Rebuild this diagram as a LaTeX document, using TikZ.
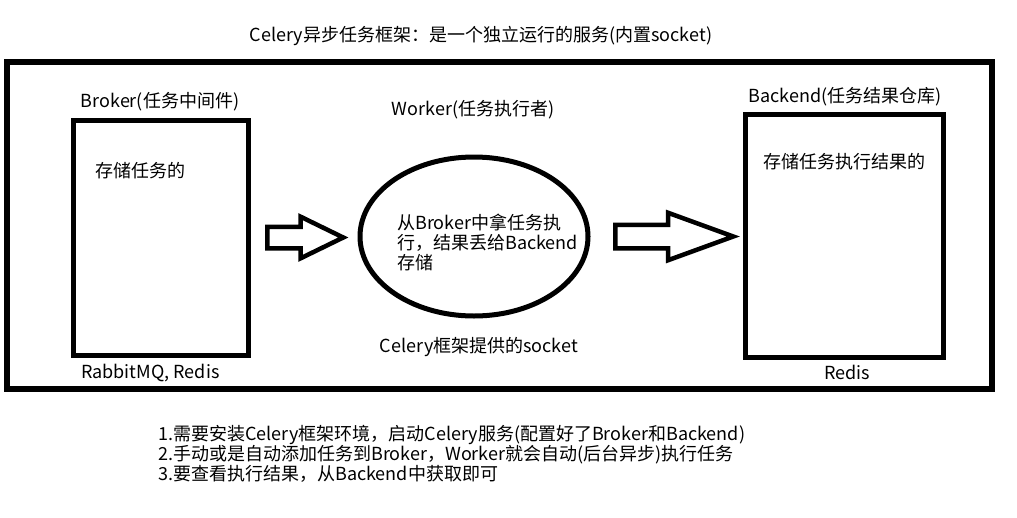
\documentclass[tikz,border=0pt]{standalone}
\usepackage{fontspec}
\setmainfont{Noto Sans CJK SC}
\usetikzlibrary{shapes.geometric,shapes.arrows}

\begin{document}
\begin{tikzpicture}[x=1pt,y=-1pt,
  txt/.style={inner sep=0pt,font=\fontsize{18}{20}\selectfont},
  box/.style={draw,line width=5pt,inner sep=0pt},
  fatarrow/.style={draw,line width=4.5pt,single arrow,inner xsep=0pt,anchor=tail}]
\useasboundingbox (0,0) rectangle (1017,517);
% outer frame and title
\node[box,line width=6pt,minimum width=985.5pt,minimum height=326.7pt] (frame) at (499.25,225.3) {};
\node[txt] (title) at (481,36) {Celery异步任务框架：是一个独立运行的服务(内置socket)};
% broker
\node[box,minimum width=175pt,minimum height=235pt] (broker) at (160.5,237.5) {};
\node[txt] (brokerlabel) at (160,102) {Broker(任务中间件)};
\node[txt,anchor=west] (brokertext) at (95,171) {存储任务的};
\node[txt,anchor=west] (brokerimpl) at (81,373) {RabbitMQ, Redis};
% worker
\node[box,ellipse,minimum width=228pt,minimum height=159pt] (worker) at (474,236.5) {};
\node[txt] (workerlabel) at (473,110) {Worker(任务执行者)};
\node[txt,anchor=west,align=left] (workertext) at (397,242) {从Broker中拿任务执\\行，结果丢给Backend\\存储};
\node[txt] (socket) at (479,347) {Celery框架提供的socket};
% backend
\node[box,minimum width=198pt,minimum height=243pt] (backend) at (844,235.5) {};
\node[txt] (backendlabel) at (845,97) {Backend(任务结果仓库)};
\node[txt] (backendtext) at (844,162) {存储任务执行结果的};
\node[txt] (backendimpl) at (847,372) {Redis};
% arrows
\node[fatarrow,inner ysep=8.5pt,single arrow head extend=10pt,single arrow tip angle=52,minimum height=76pt] (toworker) at (265,237.5) {};
\node[fatarrow,inner ysep=9.5pt,single arrow head extend=12pt,single arrow tip angle=40,minimum height=118pt] (tobackend) at (613,236.5) {};
% notes
\node[txt,anchor=north west,align=left] (notes) at (158,425) {1.需要安装Celery框架环境，启动Celery服务(配置好了Broker和Backend)\\2.手动或是自动添加任务到Broker，Worker就会自动(后台异步)执行任务\\3.要查看执行结果，从Backend中获取即可};
\end{tikzpicture}
\end{document}
